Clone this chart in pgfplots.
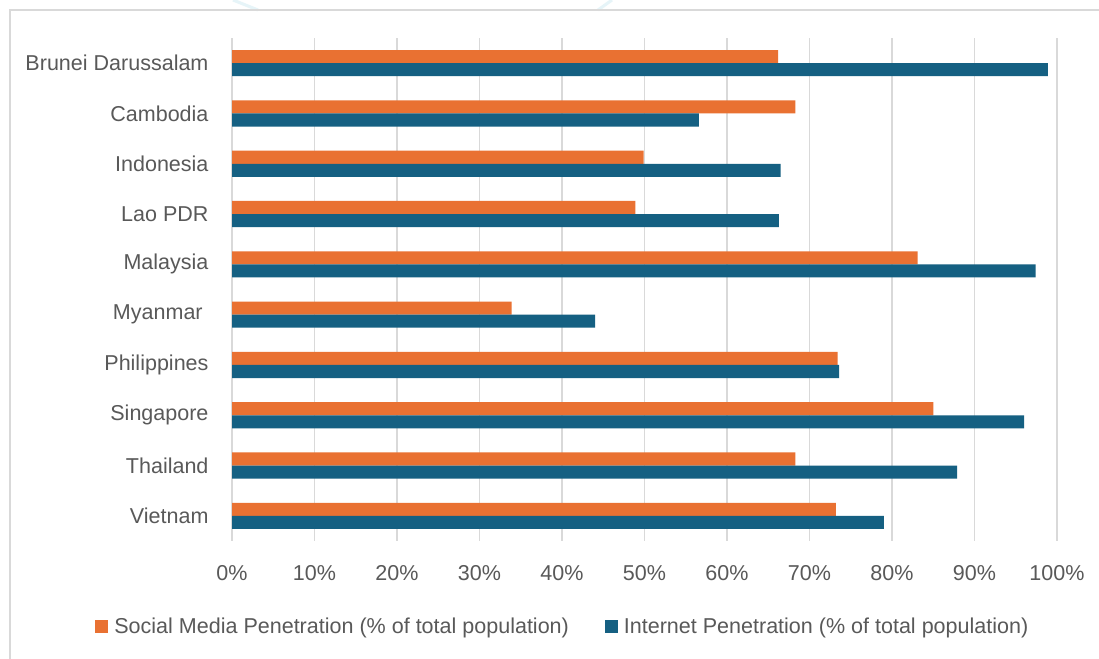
\documentclass[border=0pt]{standalone}
\usepackage{fontspec}
\setmainfont{Liberation Sans}
\usepackage{pgfplots}
\pgfplotsset{compat=1.18}
\definecolor{smorange}{HTML}{E97132}
\definecolor{netblue}{HTML}{156082}
\definecolor{txtgray}{HTML}{595959}
\definecolor{gridgray}{HTML}{D9D9D9}
\definecolor{decocyan}{HTML}{E6F4F8}

\begin{document}
\begin{tikzpicture}
\useasboundingbox[fill=white] (0bp,0bp) rectangle (1099bp,659bp);
% faint decorative strokes behind the chart frame
\draw[decocyan, line width=3bp] (233bp,659bp) -- (258bp,649bp);
\draw[decocyan, line width=3bp] (612bp,659bp) -- (598bp,649bp);
\draw[decocyan, line width=3bp] (1183bp,659bp) -- (1200bp,649bp);
% chart frame
\draw[gridgray, line width=1.5bp] (10bp,-10bp) -- (10bp,649bp) -- (1110bp,649bp);
\begin{axis}[
  at={(232bp,118bp)}, anchor=south west,
  scale only axis, width=825bp, height=503bp,
  xmin=0, xmax=100, ymin=-0.5, ymax=9.5, y dir=reverse,
  ytick={0,...,9},
  yticklabels={Brunei Darussalam,Cambodia,Indonesia,Lao PDR,Malaysia,Myanmar\kern0.27em,Philippines,Singapore,Thailand,Vietnam},
  xtick={0,10,...,100},
  xticklabels={0\%,10\%,20\%,30\%,40\%,50\%,60\%,70\%,80\%,90\%,100\%},
  xmajorgrids, grid style={gridgray, line width=1.3bp},
  axis line style={draw=none}, major tick length=0pt,
  tick label style={font=\fontsize{21.6}{26}\selectfont, text=txtgray},
  xticklabel style={yshift=-21bp},
  yticklabel style={xshift=-20bp},
  legend columns=2,
  legend style={at={(0.401,-0.169)}, anchor=center, draw=none, fill=none,
    font=\fontsize{21.6}{26}\selectfont, text=txtgray,
    /tikz/every even column/.append style={column sep=34bp}},
]
\addplot[xbar, bar width=0.26, bar shift=-0.13, fill=smorange, draw=none,
  legend image code/.code={\fill[smorange] (0bp,-6.5bp) rectangle (13bp,6.5bp); \path (17bp,0bp);}]
  coordinates {(66.2,0) (68.3,1) (49.9,2) (48.9,3) (83.1,4) (33.9,5) (73.4,6) (85.0,7) (68.3,8) (73.2,9)};
\addlegendentry{Social Media Penetration (\% of total population)}
\addplot[xbar, bar width=0.26, bar shift=0.13, fill=netblue, draw=none,
  legend image code/.code={\fill[netblue] (0bp,-6.5bp) rectangle (13bp,6.5bp); \path (17bp,0bp);}]
  coordinates {(98.9,0) (56.6,1) (66.5,2) (66.3,3) (97.4,4) (44.0,5) (73.6,6) (96.0,7) (87.9,8) (79.0,9)};
\addlegendentry{Internet Penetration (\% of total population)}
\end{axis}
\end{tikzpicture}
\end{document}
